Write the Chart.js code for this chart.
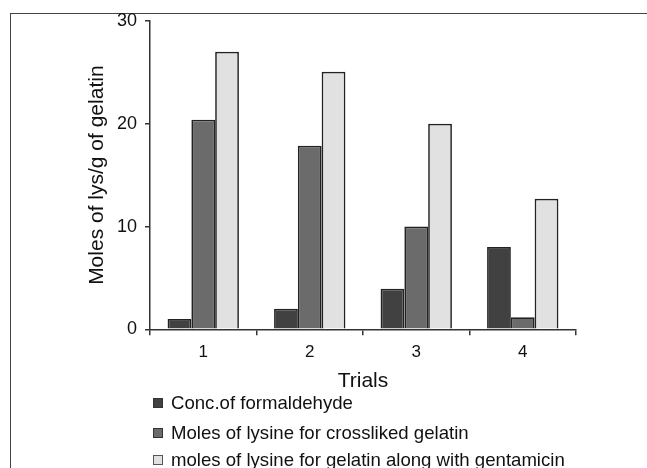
<!DOCTYPE html>
<html>
<head>
<meta charset="utf-8">
<script src="https://cdn.jsdelivr.net/npm/chart.js@4"></script>
<style>
  body { margin: 0; background: #fff; }
  #wrap { position: relative; width: 647px; height: 468px; overflow: hidden; }
  #frame { position: absolute; left: 10px; top: 13px; width: 700px; height: 520px; border: 1px solid #444; }
  canvas { position: absolute; left: 0; top: 0; }
</style>
</head>
<body>
<div id="wrap">
  <div id="frame"></div>
  <canvas id="grafico" width="647" height="468"></canvas>
</div>
<script>
// dados
const trials = ["1", "2", "3", "4"];
const formaldeido = [1, 2, 3.95, 8];
const lisinaReticulada = [20.4, 17.85, 10, 1.17];
const lisinaGentamicina = [27, 25.05, 20, 12.7];
const yTicks = [0, 10, 20, 30];

const fonte = "'Liberation Sans', Arial, sans-serif";
Chart.defaults.font.family = fonte;
Chart.defaults.color = "#111";

// legenda vertical desenhada no canvas
const legendaVertical = {
  id: "legendaVertical",
  afterDraw(chart) {
    const ctx = chart.ctx;
    const linhas = [403, 433, 460];
    ctx.save();
    ctx.font = "18.6px " + fonte;
    ctx.textBaseline = "middle";
    chart.data.datasets.forEach((ds, i) => {
      const y = linhas[i];
      ctx.fillStyle = ds.backgroundColor;
      ctx.strokeStyle = i === 2 ? "#555" : "#333";
      ctx.lineWidth = 1;
      ctx.fillRect(153.5, y - 4.5, 9, 9);
      ctx.strokeRect(153.5, y - 4.5, 9, 9);
      ctx.fillStyle = "#111";
      ctx.fillText(ds.label, 171, y + 1);
    });
    ctx.restore();
  }
};

const ctx = document.getElementById("grafico").getContext("2d");
new Chart(ctx, {
  type: "bar",
  data: {
    labels: trials,
    datasets: [
      { label: "Conc.of formaldehyde", data: formaldeido, backgroundColor: "#414141" },
      { label: "Moles of lysine for crossliked gelatin", data: lisinaReticulada, backgroundColor: "#6b6b6b" },
      { label: "moles of lysine for gelatin along with gentamicin", data: lisinaGentamicina, backgroundColor: "#e1e1e1" }
    ].map(d => Object.assign(d, {
      borderColor: "#222",
      borderWidth: 1.7,
      categoryPercentage: 0.67,
      barPercentage: 1
    }))
  },
  options: {
    responsive: false,
    devicePixelRatio: 1,
    animation: false,
    layout: { padding: { left: 0, right: 71, top: 21, bottom: 74.4 } },
    plugins: { legend: { display: false }, tooltip: { enabled: false } },
    scales: {
      x: {
        grid: { drawOnChartArea: false, drawTicks: true, tickLength: 6, color: "#333", lineWidth: 1.5, offset: true },
        border: { display: true, color: "#333", width: 1.5 },
        ticks: { font: { size: 17 }, padding: 7, color: "#111" },
        title: { display: true, text: "Trials", font: { size: 21 }, padding: { top: 0, bottom: 0 }, color: "#111" },
        afterFit(scale) { scale.height = 64.3; }
      },
      y: {
        min: 0,
        max: 30,
        afterBuildTicks(scale) { scale.ticks = yTicks.map(v => ({ value: v })); },
        grid: { drawOnChartArea: false, drawTicks: true, tickLength: 5, color: "#333", lineWidth: 1.5 },
        border: { display: true, color: "#333", width: 1.5 },
        ticks: { font: { size: 18 }, padding: 8, color: "#111" },
        title: { display: true, text: "Moles of lys/g of gelatin", font: { size: 21 }, padding: { top: 84.4, bottom: 0 }, color: "#111" },
        afterFit(scale) { scale.width = 150; }
      }
    }
  },
  plugins: [legendaVertical]
});
</script>
</body>
</html>
